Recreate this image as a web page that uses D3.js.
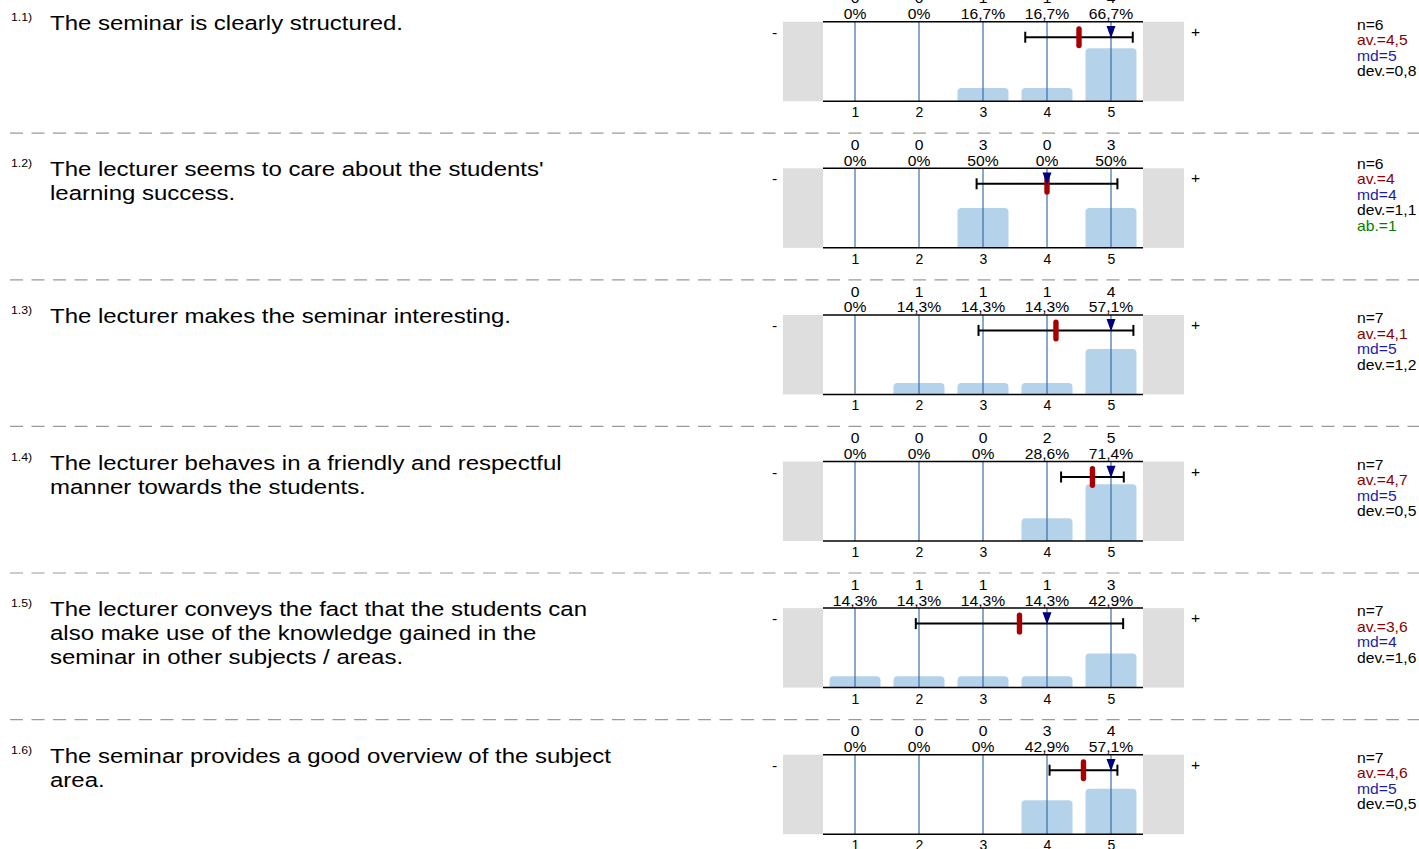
<!DOCTYPE html>
<html>
<head>
<meta charset="utf-8">
<script src="https://cdn.jsdelivr.net/npm/d3@7"></script>
<style>
  html, body { margin: 0; padding: 0; background: #fff; }
  svg { display: block; font-family: "Liberation Sans", Arial, sans-serif; }
</style>
</head>
<body>
<svg id="chart" width="1419" height="849"></svg>
<script>
// ---- data ----
const questionIds = ["1.1)", "1.2)", "1.3)", "1.4)", "1.5)", "1.6)"];
const questionLines = [
  ["The seminar is clearly structured."],
  ["The lecturer seems to care about the students'", "learning success."],
  ["The lecturer makes the seminar interesting."],
  ["The lecturer behaves in a friendly and respectful", "manner towards the students."],
  ["The lecturer conveys the fact that the students can", "also make use of the knowledge gained in the", "seminar in other subjects / areas."],
  ["The seminar provides a good overview of the subject", "area."]
];
const categories = [1, 2, 3, 4, 5];
const counts = [
  [0, 0, 1, 1, 4],
  [0, 0, 3, 0, 3],
  [0, 1, 1, 1, 4],
  [0, 0, 0, 2, 5],
  [1, 1, 1, 1, 3],
  [0, 0, 0, 3, 4]
];
const nValues = [6, 6, 7, 7, 7, 7];
const avgValues = [4.5, 4.0, 4.14, 4.71, 3.57, 4.57];
const medianValues = [5, 4, 5, 5, 4, 5];
const devValues = [0.84, 1.10, 1.21, 0.49, 1.62, 0.53];
const abValues = [null, 1, null, null, null, null];

// ---- layout ----
const rowTop0 = 21.7, rowStep = 146.6, panelH = 79.5;
const x = d3.scaleLinear().domain([0.5, 5.5]).range([823, 1143]);
const barW = 51;
const fmt = v => {
  const s = d3.format(".1f")(v).replace(".", ",");
  return s.endsWith(",0") ? s.slice(0, -2) : s;
};

const svg = d3.select("#chart");
const FS_Q = 20.5, SX_Q = 1.17, FS_S = 14, SX_S = 1.12;

function stext(parent, tx, ty, str, fs, sx, anchor, fill) {
  return parent.append("text")
    .attr("transform", `translate(${tx},${ty}) scale(${sx},1)`)
    .attr("font-size", fs)
    .attr("text-anchor", anchor || "start")
    .attr("fill", fill || "#000")
    .text(str);
}

questionIds.forEach((qid, i) => {
  const top = rowTop0 + i * rowStep;
  const bottom = top + panelH;
  const y = d3.scaleLinear().domain([0, 1]).range([bottom, top]);
  const g = svg.append("g");

  // separator
  if (i > 0) {
    svg.append("line")
      .attr("x1", 10).attr("x2", 1419)
      .attr("y1", top - rowStep + 111.5).attr("y2", top - rowStep + 111.5)
      .attr("stroke", "#9a9a9a").attr("stroke-width", 1.2)
      .attr("stroke-dasharray", "13,8.5");
  }

  // question text
  stext(g, 11, top - 1, qid, 11, SX_S);
  questionLines[i].forEach((ln, k) => {
    stext(g, 50, top + 8 + k * 24, ln, FS_Q, SX_Q);
  });

  // grey side boxes
  g.append("rect").attr("x", 783).attr("y", top).attr("width", x(0.5) - 783).attr("height", panelH).attr("fill", "#dedede");
  g.append("rect").attr("x", x(5.5)).attr("y", top).attr("width", 1184 - x(5.5)).attr("height", panelH).attr("fill", "#dedede");

  // - / +
  stext(g, 772, top + 16, "-", FS_S, SX_S);
  stext(g, 1191, top + 15, "+", FS_S, SX_S);

  const n = nValues[i];
  const data = categories.map((c, k) => ({ c, count: counts[i][k], p: counts[i][k] / n }));

  // bars with rounded top corners
  const r = 4;
  g.selectAll("path.bar").data(data.filter(d => d.count > 0)).enter().append("path")
    .attr("class", "bar")
    .attr("fill", "#b4d3ea")
    .attr("d", d => {
      const x0 = x(d.c) - barW / 2, x1 = x(d.c) + barW / 2;
      const yt = y(d.p), yb = bottom;
      return `M${x0},${yb} L${x0},${yt + r} Q${x0},${yt} ${x0 + r},${yt} L${x1 - r},${yt} Q${x1},${yt} ${x1},${yt + r} L${x1},${yb} Z`;
    });

  // vertical category lines
  g.selectAll("line.cat").data(categories).enter().append("line")
    .attr("x1", d => x(d)).attr("x2", d => x(d))
    .attr("y1", top).attr("y2", bottom)
    .attr("stroke", "#3a6fa6").attr("stroke-width", 1.2);

  // top and bottom lines
  [top, bottom].forEach(yy => {
    g.append("line").attr("x1", x(0.5)).attr("x2", x(5.5)).attr("y1", yy).attr("y2", yy)
      .attr("stroke", "#000").attr("stroke-width", 1.5);
  });

  // count / percent labels
  data.forEach(d => {
    stext(g, x(d.c), top - 18.3, String(d.count), FS_S, SX_S, "middle");
    stext(g, x(d.c), top - 2.5, fmt(d.p * 100) + "%", FS_S, SX_S, "middle");
  });

  // axis
  const ax = g.append("g").attr("transform", `translate(0,${bottom})`)
    .call(d3.axisBottom(x).tickValues(categories).tickSize(0).tickPadding(6).tickFormat(d3.format("d")));
  ax.select(".domain").remove();
  ax.selectAll("text").attr("font-size", FS_S).attr("font-family", "Liberation Sans, Arial, sans-serif").attr("fill", "#000");

  // error bar (mean ± dev)
  const ey = top + 15.5;
  const m = avgValues[i], dv = devValues[i];
  const xl = x(m - dv), xr = x(m + dv);
  g.append("line").attr("x1", xl).attr("x2", xr).attr("y1", ey).attr("y2", ey).attr("stroke", "#000").attr("stroke-width", 2);
  [xl, xr].forEach(xx => g.append("line").attr("x1", xx).attr("x2", xx).attr("y1", ey - 5.5).attr("y2", ey + 5.5).attr("stroke", "#000").attr("stroke-width", 2));

  // mean marker
  g.append("rect").attr("x", x(m) - 2.7).attr("y", ey - 11).attr("width", 5.4).attr("height", 22)
    .attr("rx", 2.7).attr("fill", "#a80000");

  // median triangle
  const mx = x(medianValues[i]);
  g.append("path").attr("d", `M${mx - 4.5},${top + 4.2} L${mx + 4.5},${top + 4.2} L${mx},${top + 16.5} Z`).attr("fill", "#00007f");

  // stats
  const stats = [
    { t: "n=" + n, c: "#000" },
    { t: "av.=" + fmt(m), c: "#8b0000" },
    { t: "md=" + medianValues[i], c: "#1c1ca8" },
    { t: "dev.=" + fmt(dv), c: "#000" }
  ];
  if (abValues[i] != null) stats.push({ t: "ab.=" + abValues[i], c: "#008000" });
  const lh = 15.5;
  const cy = top + 26.5 - (stats.length - 1) * lh / 2;
  stats.forEach((s, k) => {
    stext(g, 1357, cy + k * lh + 5, s.t, FS_S, SX_S, "start", s.c);
  });
});
</script>
</body>
</html>
